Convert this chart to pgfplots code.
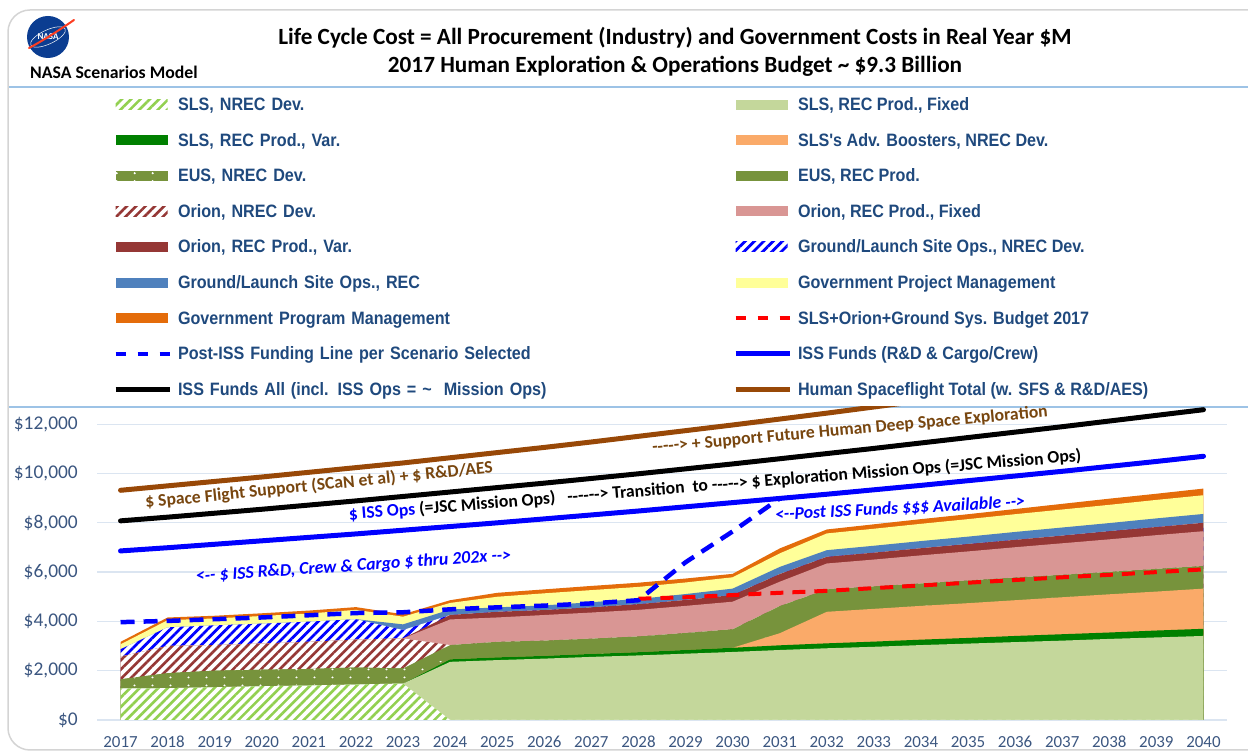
\documentclass[border=0pt]{standalone}
\usepackage{pgfplots}
\pgfplotsset{compat=1.18}
\usepackage{pgfplotstable}
\usetikzlibrary{patterns.meta}
\usepackage{fontspec}
\setmainfont{Carlito}[Ligatures=TeXOff]
\newfontfamily\legfont{Liberation Sans}[FakeStretch=0.9,Ligatures=TeXOff]

\definecolor{legblue}{RGB}{31,73,125}
\definecolor{ticklab}{RGB}{59,86,128}
\definecolor{gridc}{RGB}{219,229,241}
\definecolor{lgreen}{RGB}{146,208,80}
\definecolor{slsfix}{RGB}{196,215,155}
\definecolor{slsvar}{RGB}{0,128,0}
\definecolor{boost}{RGB}{250,170,105}
\definecolor{euscol}{RGB}{119,147,60}
\definecolor{oriond}{RGB}{149,55,53}
\definecolor{orionf}{RGB}{217,150,148}
\definecolor{steel}{RGB}{79,129,189}
\definecolor{pyellow}{RGB}{255,255,153}
\definecolor{porange}{RGB}{228,108,10}
\definecolor{hsf}{RGB}{152,72,7}
\definecolor{browntxt}{RGB}{120,70,15}
\definecolor{boxblue}{RGB}{157,195,230}
\definecolor{framegray}{RGB}{212,212,212}
\definecolor{nasablue}{RGB}{11,61,145}
\definecolor{nasared}{RGB}{252,61,33}

\tikzdeclarepattern{
  name=eusd,
  type=uncolored,
  bounding box={(0bp,0bp) and (18bp,8bp)},
  tile size={(18bp,8bp)},
  code={\path[draw=none, fill] (9bp,4bp) circle (1.2bp);}
}

\tikzset{
  hatchgreen/.style={pattern={Lines[angle=45,distance=6.6bp,line width=2.6bp]}, pattern color=lgreen},
  hatchred/.style={pattern={Lines[angle=45,distance=6.6bp,line width=2.6bp]}, pattern color=oriond},
  hatchblue/.style={pattern={Lines[angle=45,distance=6.6bp,line width=2.8bp]}, pattern color=blue},
  eusdots/.style={pattern=eusd, pattern color=white},
}
\pgfplotsset{
  sw/.style={legend image code/.code={\path[##1] (0bp,-5bp) rectangle (52bp,5bp);}},
  ln/.style={legend image code/.code={\draw[##1] (0bp,0bp) -- (54bp,0bp);}},
}

% cumulative tops of the stacked areas (Real Year $M)
\pgfplotstableread{
yr   A    B    C    D    E    F    G    H    I    J    K    L    M
2017 1280 1280 1280 1280 1650 1650 2570 2570 2570 2870 2870 3070 3170
2018 1290 1290 1290 1290 1900 1900 3000 3000 3000 3760 3760 4050 4160
2019 1330 1330 1330 1330 2000 2000 3040 3040 3040 3840 3840 4120 4230
2020 1370 1370 1370 1370 2040 2040 3100 3100 3100 3910 3910 4220 4330
2021 1400 1400 1400 1400 2070 2070 3170 3170 3170 3990 3990 4320 4440
2022 1440 1440 1440 1440 2130 2130 3260 3260 3260 4090 4090 4470 4580
2023 1480 1480 1480 1480 2090 2090 3310 3310 3310 3650 3880 4190 4290
2024 0 2360 2460 2460 2460 3040 3040 4080 4260 4260 4480 4750 4860
2025 0 2430 2540 2540 2540 3170 3170 4160 4390 4390 4570 5000 5160
2026 0 2490 2600 2600 2600 3220 3220 4260 4460 4460 4650 5140 5300
2027 0 2560 2680 2680 2680 3300 3300 4360 4570 4570 4780 5270 5440
2028 0 2620 2750 2750 2750 3390 3390 4470 4700 4700 4910 5400 5570
2029 0 2690 2840 2840 2840 3530 3530 4630 4870 4870 5110 5580 5740
2030 0 2760 2930 2930 2930 3680 3680 4800 5070 5070 5330 5790 5930
2031 0 2840 3030 3520 3520 4620 4620 5610 5920 5920 6210 6760 6960
2032 0 2910 3110 4390 4390 5300 5300 6350 6620 6620 6890 7570 7730
2033 0 2970 3180 4510 4510 5420 5420 6510 6790 6790 7070 7760 7940
2034 0 3040 3260 4630 4630 5540 5540 6680 6970 6970 7260 7960 8150
2035 0 3100 3330 4740 4740 5660 5660 6840 7140 7140 7440 8150 8350
2036 0 3160 3410 4860 4860 5780 5780 7010 7310 7310 7630 8350 8560
2037 0 3220 3480 4980 4980 5890 5890 7170 7480 7480 7810 8540 8770
2038 0 3290 3550 5100 5100 6010 6010 7330 7660 7660 7990 8730 8980
2039 0 3350 3630 5210 5210 6130 6130 7500 7830 7830 8180 8930 9180
2040 0 3410 3700 5330 5330 6250 6250 7660 8000 8000 8360 9120 9390
}\cum

\pgfplotstableread{
yr v
2028 4920
2029 4980
2030 5070
2031 5160
2032 5240
2033 5350
2034 5460
2035 5570
2036 5680
2037 5790
2038 5890
2039 6000
2040 6110
}\budgetT

\pgfplotstableread{
yr v
2017 3970
2018 4020
2019 4090
2020 4160
2021 4250
2022 4340
2023 4370
2024 4490
2025 4570
2026 4640
2027 4730
2028 4860
2029 6400
2030 7650
2031 8990
}\postT

\pgfplotstableread{
yr v
2017 6860
2018 6990
2019 7130
2020 7270
2021 7410
2022 7550
2023 7700
2024 7850
2025 8000
2026 8160
2027 8320
2028 8480
2029 8650
2030 8820
2031 8990
2032 9160
2033 9340
2034 9520
2035 9710
2036 9900
2037 10090
2038 10290
2039 10490
2040 10700
}\issT

\pgfplotstableread{
yr v
2017 8080
2018 8230
2019 8390
2020 8550
2021 8720
2022 8890
2023 9070
2024 9250
2025 9430
2026 9610
2027 9800
2028 9990
2029 10190
2030 10390
2031 10600
2032 10810
2033 11020
2034 11240
2035 11460
2036 11680
2037 11900
2038 12130
2039 12360
2040 12590
}\issallT

\pgfplotstableread{
yr v
2017 9320
2018 9500
2019 9680
2020 9860
2021 10050
2022 10240
2023 10430
2024 10640
2025 10850
2026 11060
2027 11280
2028 11510
2029 11740
2030 11970
2031 12210
2032 12450
2033 12700
2034 12950
2035 13210
2036 13470
2037 13740
2038 14010
2039 14290
2040 14580
}\hsfT

\begin{document}
\begin{tikzpicture}[x=1bp,y=1bp]
\path[use as bounding box] (0,0) rectangle (1248,753);
% frame
\draw[framegray, line width=1.5bp, rounded corners=22bp] (8,3) rectangle (1290,743);
\draw[boxblue, line width=1.6bp] (9,666) -- (1248,666);
\draw[boxblue, line width=1.6bp] (9,346) -- (1248,346);
% NASA logo
\fill[nasablue] (48,716) circle (21);
\draw[white, line width=0.5bp] (48,716) ellipse [x radius=19, y radius=7, rotate=25];
\node[white, font=\bfseries\fontsize{9}{9}\selectfont, inner sep=0pt] at (48,716) {NASA};
\draw[nasared, line width=2bp, line cap=round] (29,705) .. controls (44,713) and (58,722) .. (74,733);
\node[anchor=west, inner sep=0pt, font=\bfseries\fontsize{17.8}{17.8}\selectfont] at (30,681) {NASA Scenarios Model};
% titles
\node[font=\bfseries\fontsize{23.3}{23.3}\selectfont, inner sep=0pt] at (675,715) {Life Cycle Cost = All Procurement (Industry) and Government Costs in Real Year \$M};
\node[font=\bfseries\fontsize{23.3}{23.3}\selectfont, inner sep=0pt] at (675,687) {2017 Human Exploration \& Operations Budget \textasciitilde{} \$9.3 Billion};

\begin{axis}[
  at={(97bp,33bp)}, anchor=south west, scale only axis,
  width=1130bp, height=313bp,
  xmin=2016.5, xmax=2040.5, ymin=0, ymax=12700,
  axis line style={draw=none},
  major tick length=0pt,
  scaled y ticks=false, scaled x ticks=false,
  ytick={0,2000,4000,6000,8000,10000,12000},
  yticklabels={{\$0},{\$2,000},{\$4,000},{\$6,000},{\$8,000},{\$10,000},{\$12,000}},
  xtick={2017,2018,2019,2020,2021,2022,2023,2024,2025,2026,2027,2028,2029,2030,2031,2032,2033,2034,2035,2036,2037,2038,2039,2040},
  xticklabels={2017,2018,2019,2020,2021,2022,2023,2024,2025,2026,2027,2028,2029,2030,2031,2032,2033,2034,2035,2036,2037,2038,2039,2040},
  ymajorgrids, grid style={gridc, line width=1.3bp},
  yticklabel style={font=\fontsize{19.5}{19.5}\selectfont, text=ticklab, inner sep=0pt, anchor=east, xshift=-19bp},
  xticklabel style={font=\fontsize{17}{17}\selectfont, text=ticklab, inner sep=0pt, anchor=center, yshift=-22bp},
  legend columns=2, legend cell align=left,
  legend style={at={(0.01416,2.0230)}, anchor=north west, draw=none, fill=none,
    inner sep=0pt, outer sep=0pt, row sep=0pt,
    font=\legfont\bfseries\fontsize{18}{18}\selectfont, text=legblue,
    nodes={inner xsep=0pt, inner ysep=8.8bp, text height=15bp, text depth=3bp},
    /tikz/every odd column/.style={column sep=6bp},
    /tikz/column 3/.style={column sep=10bp},
    /tikz/column 2/.style={nodes={text width=555bp}}},
  every axis plot/.append style={line join=round},
]
% ---- stacked areas painted from the top series downwards ----
\addplot[forget plot, fill=porange, draw=none] table[x=yr,y=M]{\cum} \closedcycle;
\addplot[forget plot, fill=pyellow, draw=none] table[x=yr,y=L]{\cum} \closedcycle;
\addplot[forget plot, fill=steel, draw=none] table[x=yr,y=K]{\cum} \closedcycle;
\addplot[forget plot, fill=white, draw=none] table[x=yr,y=J]{\cum} \closedcycle;
\addplot[forget plot, hatchblue, draw=none] table[x=yr,y=J]{\cum} \closedcycle;
\addplot[forget plot, fill=oriond, draw=none] table[x=yr,y=I]{\cum} \closedcycle;
\addplot[forget plot, fill=orionf, draw=none] table[x=yr,y=H]{\cum} \closedcycle;
\addplot[forget plot, fill=white, draw=none] table[x=yr,y=G]{\cum} \closedcycle;
\addplot[forget plot, hatchred, draw=none] table[x=yr,y=G]{\cum} \closedcycle;
\addplot[forget plot, fill=euscol, draw=none] table[x=yr,y=F]{\cum} \closedcycle;
\addplot[forget plot, fill=euscol, draw=none] table[x=yr,y=E]{\cum} \closedcycle;
\addplot[forget plot, eusdots, draw=none] table[x=yr,y=E]{\cum} \closedcycle;
\addplot[forget plot, fill=boost, draw=none] table[x=yr,y=D]{\cum} \closedcycle;
\addplot[forget plot, fill=slsvar, draw=none] table[x=yr,y=C]{\cum} \closedcycle;
\addplot[forget plot, fill=slsfix, draw=none] table[x=yr,y=B]{\cum} \closedcycle;
\addplot[forget plot, fill=white, draw=none] table[x=yr,y=A]{\cum} \closedcycle;
\addplot[forget plot, hatchgreen, draw=none] table[x=yr,y=A]{\cum} \closedcycle;
% ---- lines ----
\addplot[forget plot, red, line width=4bp, dash pattern=on 13bp off 9bp] table[x=yr,y=v]{\budgetT};
\addplot[forget plot, blue, line width=4.5bp, dash pattern=on 14bp off 9bp] table[x=yr,y=v]{\postT};
\addplot[forget plot, blue, line width=5bp, line cap=round] table[x=yr,y=v]{\issT};
\addplot[forget plot, black, line width=5bp, line cap=round] table[x=yr,y=v]{\issallT};
\addplot[forget plot, hsf, line width=5bp, line cap=round] table[x=yr,y=v]{\hsfT};
% ---- legend ----
\addlegendimage{sw, draw=none, hatchgreen}
\addlegendentry{SLS, NREC Dev.}
\addlegendimage{sw, draw=none, fill=slsfix}
\addlegendentry{SLS, REC Prod., Fixed}
\addlegendimage{sw, draw=none, fill=slsvar}
\addlegendentry{SLS, REC Prod., Var.}
\addlegendimage{sw, draw=none, fill=boost}
\addlegendentry{SLS's Adv. Boosters, NREC Dev.}
\addlegendimage{sw, draw=none, fill=euscol, postaction={pattern=eusd, pattern color=white}}
\addlegendentry{EUS, NREC Dev.}
\addlegendimage{sw, draw=none, fill=euscol}
\addlegendentry{EUS, REC Prod.}
\addlegendimage{sw, draw=none, hatchred}
\addlegendentry{Orion, NREC Dev.}
\addlegendimage{sw, draw=none, fill=orionf}
\addlegendentry{Orion, REC Prod., Fixed}
\addlegendimage{sw, draw=none, fill=oriond}
\addlegendentry{Orion, REC Prod., Var.}
\addlegendimage{sw, draw=none, hatchblue}
\addlegendentry{Ground/Launch Site Ops., NREC Dev.}
\addlegendimage{sw, draw=none, fill=steel}
\addlegendentry{Ground/Launch Site Ops., REC}
\addlegendimage{sw, draw=none, fill=pyellow}
\addlegendentry{Government Project Management}
\addlegendimage{sw, draw=none, fill=porange}
\addlegendentry{Government Program Management}
\addlegendimage{ln, red, line width=4bp, dash pattern=on 10bp off 12bp}
\addlegendentry{SLS+Orion+Ground Sys. Budget 2017}
\addlegendimage{ln, blue, line width=4.5bp, dash pattern=on 10bp off 12bp}
\addlegendentry{Post-ISS Funding Line per Scenario Selected}
\addlegendimage{ln, blue, line width=5bp}
\addlegendentry{ISS Funds (R\&D \& Cargo/Crew)}
\addlegendimage{ln, black, line width=5bp}
\addlegendentry{ISS Funds All (incl. ISS Ops = \textasciitilde\ \ Mission Ops)}
\addlegendimage{ln, hsf, line width=5bp}
\addlegendentry{Human Spaceflight Total (w. SFS \& R\&D/AES)}
\end{axis}

% annotations
\node[rotate=5.74, inner sep=0pt, text=browntxt, font=\bfseries\fontsize{17.7}{17.7}\selectfont] at (319,267.5) {\$ Space Flight Support (SCaN et al) + \$ R\&D/AES};
\node[rotate=4.59, inner sep=0pt, text=black, font=\bfseries\fontsize{17.7}{17.7}\selectfont] at (715,267.5) {\textcolor{blue}{\$ ISS Ops} (=JSC Mission Ops)\ \ \ ------> Transition\ \ to -----> \$ Exploration Mission Ops (=JSC Mission Ops)};
\node[rotate=5.2, inner sep=0pt, text=browntxt, font=\bfseries\fontsize{17.7}{17.7}\selectfont] at (850,323) {-----> + Support Future Human Deep Space Exploration};
\node[rotate=3.84, inner sep=0pt, text=blue, font=\bfseries\itshape\fontsize{17.8}{17.8}\selectfont] at (353.5,186.5) {<-- \$ ISS R\&D, Crew \& Cargo \$ thru 202x -->};
\node[rotate=3.0, inner sep=0pt, text=blue, font=\bfseries\itshape\fontsize{17.8}{17.8}\selectfont] at (900,244.5) {<--Post ISS Funds \$\$\$ Available -->};
\end{tikzpicture}
\end{document}
